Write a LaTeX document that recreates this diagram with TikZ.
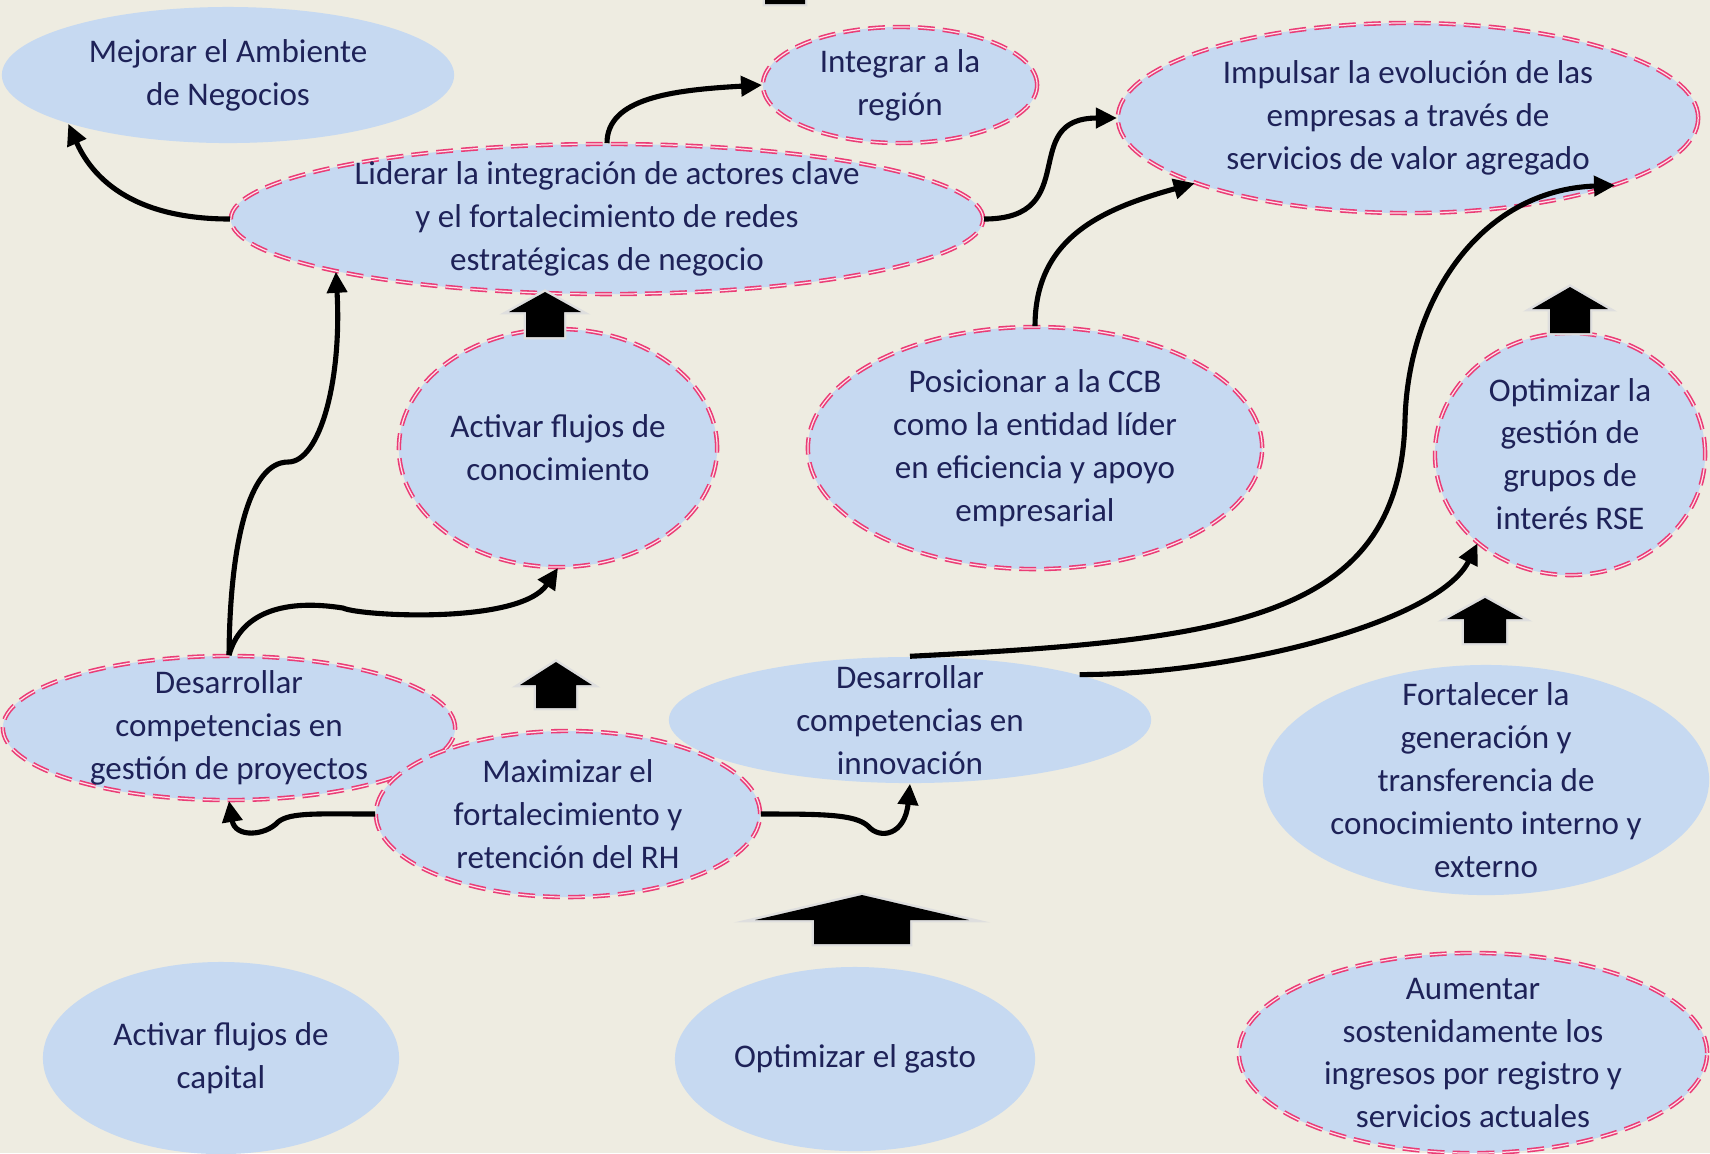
\documentclass[tikz,border=0pt]{standalone}
\usepackage{fontspec}
\setmainfont{Carlito}
\usepackage{tikz}
\usetikzlibrary{shapes.geometric, arrows.meta, positioning}
\definecolor{slidebg}{RGB}{238, 236, 225}
\definecolor{goalfill}{RGB}{198, 217, 241}
\definecolor{goaltext}{RGB}{30, 34, 88}
\definecolor{dashpink}{RGB}{234, 60, 118}

% up-pointing block arrow: x, tip y, half head, half shaft, head height, shaft height
\newcommand{\blockpath}[6]{(#1,#2) -- ({#1+#3},{#2+#5}) -- ({#1+#4},{#2+#5}) -- ({#1+#4},{#2+#5+#6})
  -- ({#1-#4},{#2+#5+#6}) -- ({#1-#4},{#2+#5}) -- ({#1-#3},{#2+#5}) -- cycle}
\newcommand{\upblock}[6]{%
  \draw[black!13, line width=1.4pt, line join=miter] \blockpath{#1}{#2}{#3}{#4}{#5}{#6};
  \fill[black] \blockpath{#1}{#2}{#3}{#4}{#5}{#6};
}

\begin{document}
\begin{tikzpicture}[x=0.01cm, y=-0.01cm,
    goal/.style={ellipse, fill=goalfill, text=goaltext, align=center, inner sep=-6pt,
        font=\fontsize{9.4}{12.2}\selectfont},
    keygoal/.style={goal, draw=dashpink, double=white!85!dashpink, line width=0.45pt, double distance=0.35pt,
        dash pattern=on 4.8pt off 2.3pt},
    esize/.style 2 args={minimum width=#1cm, minimum height=#2cm},
    link/.style={-{Triangle[length=6pt, width=5.6pt]}, line width=1.45pt, black}
]
\useasboundingbox[fill=slidebg] (0,0) rectangle (1710,1153);

% Upper objectives
\node[goal, esize={4.52}{1.36}] (mejorar) at (228,75) {Mejorar el Ambiente\\de Negocios};
\node[keygoal, esize={2.74}{1.16}] (integrar) at (900,85) {Integrar a la\\región};
\node[keygoal, esize={5.80}{1.90}] (impulsar) at (1408,118) {Impulsar la evolución de las\\empresas a través de\\servicios de valor agregado};
\node[keygoal, esize={7.52}{1.50}] (liderar) at (607,219) {Liderar la integración de actores clave\\y el fortalecimiento de redes\\estratégicas de negocio};

% Middle objectives
\node[keygoal, esize={3.18}{2.38}] (activarcon) at (558,448) {Activar flujos de\\conocimiento};
\node[keygoal, esize={4.54}{2.42}] (posicionar) at (1035,448) {Posicionar a la CCB\\como la entidad líder\\en eficiencia y apoyo\\empresarial};
\node[keygoal, esize={2.70}{2.42}] (optgestion) at (1570,454) {Optimizar la\\gestión de\\grupos de\\interés RSE};

% Learning objectives
\node[keygoal, esize={4.52}{1.44}] (desproy) at (229,728) {Desarrollar\\competencias en\\gestión de proyectos};
\node[goal, esize={4.82}{1.26}] (desinnov) at (910,720) {Desarrollar\\competencias en\\innovación};
\node[keygoal, esize={3.84}{1.66}] (maximizar) at (568,814) {Maximizar el\\fortalecimiento y\\retención del RH};
\node[goal, esize={4.46}{2.30}] (fortalecer) at (1486,780) {Fortalecer la\\generación y\\transferencia de\\conocimiento interno y\\externo};

% Financial objectives
\node[goal, esize={3.56}{1.92}] (activarcap) at (221,1058) {Activar flujos de\\capital};
\node[goal, esize={3.60}{1.84}] (optgasto) at (855,1059) {Optimizar el gasto};
\node[keygoal, esize={4.68}{2.00}] (aumentar) at (1473,1053) {Aumentar\\sostenidamente los\\ingresos por registro y\\servicios actuales};

% Block arrows
\upblock{785}{-40}{36}{20}{20}{24}
\upblock{545}{292}{36}{19}{20}{25}
\upblock{556}{662}{36}{20}{23}{23}
\upblock{862}{895}{107}{48}{25}{24}
\upblock{1570}{287}{38}{20}{22}{24}
\upblock{1485}{598}{38}{21}{21}{24}

% Arrows
\draw[link] (liderar.west) .. controls +(-100,0) and +(23,52) .. (mejorar.197);
\draw[link] (liderar.north) .. controls +(0,-45) and +(-90,5) .. (integrar.west);
\draw[link] (liderar.east) .. controls +(100,0) and +(-100,0) .. (impulsar.west);
\draw[link] (posicionar.north) .. controls +(0,-90) and +(-90,25) .. (impulsar.197);
\draw[link] (desinnov.north) .. controls (1230,640) and (1400,620) .. (1405,420)
    .. controls (1408,300) and (1480,190) .. (impulsar.342);
\draw[link] (desinnov.15) .. controls +(150,0) and +(-40,80) .. (optgestion.224);
\draw[link] (desproy.north) .. controls (230,540) and (250,462) .. (288,462)
    .. controls (320,462) and (342,380) .. (liderar.191);
\draw[link] (desproy.north) .. controls (240,615) and (280,598) .. (343,608)
    .. controls (360,616) and (520,625) .. (activarcon.south);
\draw[link] (maximizar.west) .. controls +(-56,0) and (290,812) .. (278,822)
    .. controls (265,836) and (235,838) .. (desproy.south);
\draw[link] (maximizar.east) .. controls +(60,0) and (855,814) .. (868,826)
    .. controls (880,840) and (905,835) .. (desinnov.south);

\end{tikzpicture}
\end{document}
